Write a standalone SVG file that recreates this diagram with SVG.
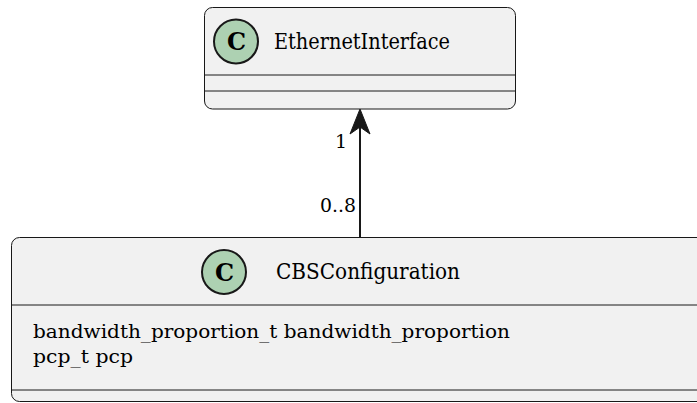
<svg xmlns="http://www.w3.org/2000/svg" width="697" height="403" viewBox="0 0 697 403">
<style>
.box{fill:#F1F1F1;stroke:#181818;stroke-width:1}
.sep{stroke:#181818;stroke-width:1}
.circ{fill:#ADD1B2;stroke:#181818;stroke-width:2}
text{font-family:'DejaVu Serif','Liberation Serif','Times New Roman',serif;fill:#000}
.cl{font-size:24px;font-weight:bold;text-anchor:middle}
.t{font-size:22px}
.a{font-size:19px}
.lbl{font-size:19px;text-anchor:end}
</style>
<rect width="697" height="403" fill="#FFFFFF"/>
<g id="connectors">
<line x1="360" y1="237" x2="360" y2="115" stroke="#181818" stroke-width="2"/>
<polygon points="360,109 350,134 360,127 370,134" fill="#181818" stroke="#181818" stroke-width="1"/>
<text class="lbl" x="347" y="148" font-family="DejaVu Serif">1</text>
<text class="lbl" x="356" y="212" font-family="DejaVu Serif" textLength="36" lengthAdjust="spacingAndGlyphs">0..8</text>
</g>
<g id="EthernetInterface">
<rect class="box" x="204.5" y="7.5" width="311" height="101.5" rx="8"/>
<circle class="circ" cx="236" cy="41.5" r="22"/>
<text class="cl" x="236.5" y="50" font-family="DejaVu Serif">C</text>
<text class="t" x="274" y="49" font-family="DejaVu Serif" textLength="176" lengthAdjust="spacingAndGlyphs">EthernetInterface</text>
<line class="sep" x1="205" y1="75" x2="515" y2="75"/>
<line class="sep" x1="205" y1="91" x2="515" y2="91"/>
</g>
<g id="CBSConfiguration">
<rect class="box" x="11.5" y="237.5" width="720" height="164" rx="8"/>
<circle class="circ" cx="224" cy="272" r="22"/>
<text class="cl" x="224.5" y="280.5" font-family="DejaVu Serif">C</text>
<text class="t" x="276" y="279" font-family="DejaVu Serif" textLength="184" lengthAdjust="spacingAndGlyphs">CBSConfiguration</text>
<line class="sep" x1="12" y1="305" x2="697" y2="305"/>
<text class="a" x="33" y="338" font-family="DejaVu Serif" textLength="477" lengthAdjust="spacingAndGlyphs">bandwidth_proportion_t bandwidth_proportion</text>
<text class="a" x="33" y="363" font-family="DejaVu Serif" textLength="100" lengthAdjust="spacingAndGlyphs">pcp_t pcp</text>
<line class="sep" x1="12" y1="390" x2="697" y2="390"/>
</g>
</svg>
